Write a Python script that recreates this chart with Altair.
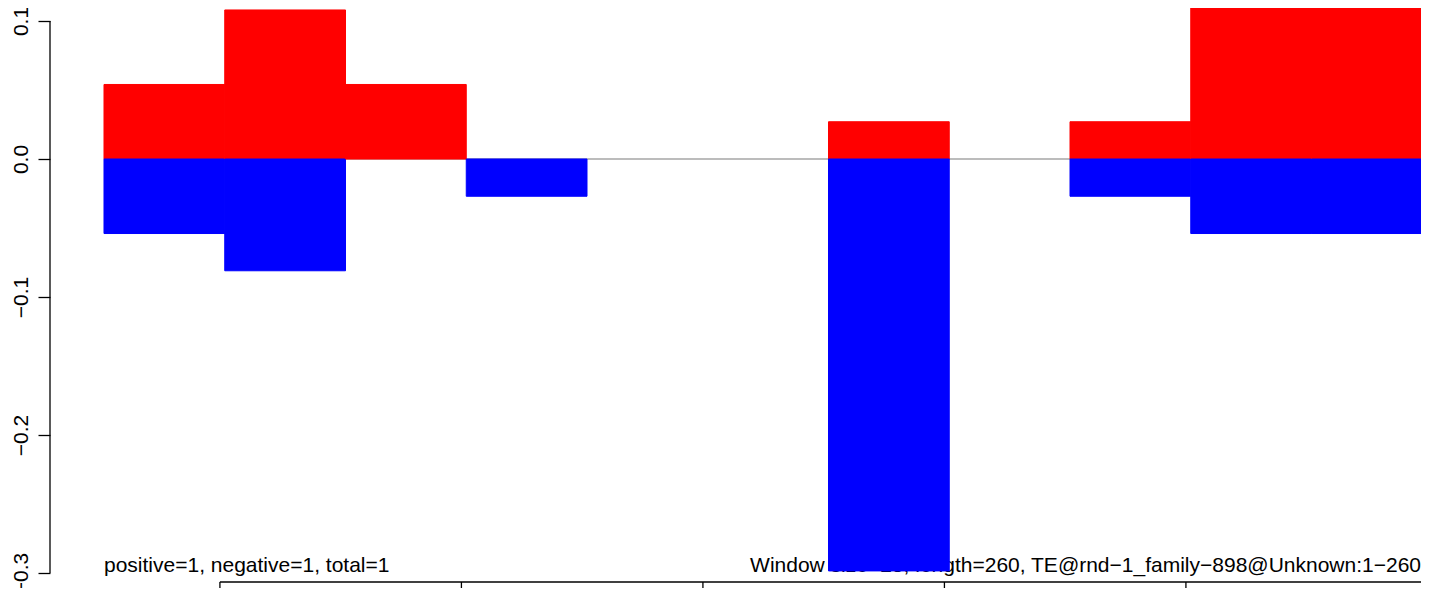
import altair as alt
import pandas as pd

# ---- data ----
window_start = [1, 26, 51, 76, 101, 126, 151, 176, 201, 226, 251]
window_end = [26, 51, 76, 101, 126, 151, 176, 201, 226, 251, 276]
positive = [0.054, 0.108, 0.054, 0.0, 0.0, 0.0, 0.027, 0.0, 0.027, 0.135, 0.135]
negative = [-0.054, -0.081, 0.0, -0.027, 0.0, 0.0, -0.2985, 0.0, -0.027, -0.054, -0.054]
y_ticks = [-0.3, -0.2, -0.1, 0.0, 0.1]
x_ticks = [25, 75, 125, 175, 225, 275]
left_note = "positive=1, negative=1, total=1"
right_note = "Window size=25, length=260, TE@rnd\u22121_family\u2212898@Unknown:1\u2212260"

# ---- layout ----
X_MIN, X_MAX = -10.18, 273.67
Y_MIN, Y_MAX = -0.30652, 0.10942
NOTE_Y = -0.2993
FONT = "Liberation Sans"

rows = []
for s, e, p, n in zip(window_start, window_end, positive, negative):
    if p != 0:
        rows.append({"x": s, "x2": e, "v": 0.0, "v2": p, "sign": "positive"})
    if n != 0:
        rows.append({"x": s, "x2": e, "v": 0.0, "v2": n, "sign": "negative"})
bars_df = pd.DataFrame(rows)

xscale = alt.Scale(domain=[X_MIN, X_MAX], nice=False, zero=False)
yscale = alt.Scale(domain=[Y_MIN, Y_MAX], nice=False, zero=False)
yaxis = alt.Axis(values=y_ticks, format=".1f", domain=False, grid=False,
                 tickSize=12, tickWidth=1.3, tickColor="black",
                 labelAngle=270, labelAlign="center", labelBaseline="alphabetic",
                 labelPadding=11, labelFont=FONT, labelFontSize=21,
                 labelColor="black", labelOverlap=False, labelBound=False,
                 labelFlush=False, title=None)


def X(field):
    return alt.X(field, type="quantitative", scale=xscale, axis=None)


def Y(field):
    return alt.Y(field, type="quantitative", scale=yscale, axis=yaxis)


notes_df = pd.DataFrame({
    "x": [window_start[0], X_MAX],
    "v": [NOTE_Y, NOTE_Y],
    "label": [left_note, right_note],
})

left_text = alt.Chart(notes_df.iloc[[0]]).mark_text(
    align="left", baseline="alphabetic", font=FONT, fontSize=21, color="black"
).encode(x=X("x"), y=Y("v"), text="label:N")

right_text = alt.Chart(notes_df.iloc[[1]]).mark_text(
    align="right", baseline="alphabetic", font=FONT, fontSize=21, color="black"
).encode(x=X("x"), y=Y("v"), text="label:N")

zero_df = pd.DataFrame({"x": [window_start[0]], "x2": [X_MAX], "v": [0.0]})
zero_line = alt.Chart(zero_df).mark_rule(color="#a6a6a6", strokeWidth=1.4).encode(
    x=X("x"), x2="x2:Q", y=Y("v")
)

sign_scale = alt.Scale(domain=["positive", "negative"], range=["#ff0000", "#0000ff"])
bars = alt.Chart(bars_df).mark_rect(clip=True, strokeWidth=1.0).encode(
    x=X("x"), x2="x2:Q", y=Y("v"), y2="v2:Q",
    fill=alt.Fill("sign:N", scale=sign_scale, legend=None),
    stroke=alt.Stroke("sign:N", scale=sign_scale, legend=None),
)

yline_df = pd.DataFrame({"v": [min(y_ticks)], "v2": [max(y_ticks)]})
y_line = alt.Chart(yline_df).mark_rule(color="black", strokeWidth=1.3).encode(
    x=alt.value(0), y=Y("v"), y2="v2:Q"
)

xline_df = pd.DataFrame({"x": [min(x_ticks)], "x2": [max(x_ticks)]})
x_line = alt.Chart(xline_df).mark_rule(color="black", strokeWidth=1.3).encode(
    x=X("x"), x2="x2:Q", y=alt.value(574)
)

xtick_df = pd.DataFrame({"x": x_ticks})
x_tick_marks = alt.Chart(xtick_df).mark_rule(color="black", strokeWidth=1.3).encode(
    x=X("x"), y=alt.value(574), y2=alt.value(580)
)

chart = alt.layer(
    left_text, right_text, zero_line, bars, y_line, x_line, x_tick_marks
).properties(
    width=1371, height=574,
    autosize=alt.AutoSizeParams(type="none"),
    padding={"left": 42, "top": 0, "right": 0, "bottom": 6},
).configure(background="white").configure_view(stroke=None)

chart.save("out.html", embed_options={"renderer": "svg", "actions": False})
